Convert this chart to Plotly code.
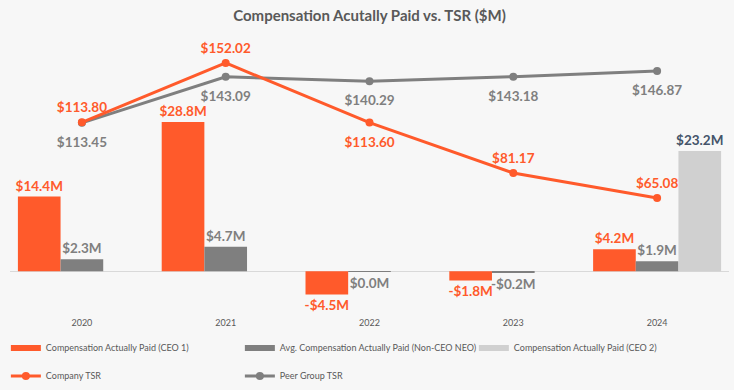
import plotly.graph_objects as go

# ---- data ----
years = ["2020", "2021", "2022", "2023", "2024"]
cap_ceo1 = [14.4, 28.8, -4.5, -1.8, 4.2]
cap_neo = [2.3, 4.7, -0.02, -0.2, 1.9]
cap_ceo2 = [None, None, None, None, 23.2]
company_tsr = [113.80, 152.02, 113.60, 81.17, 65.08]
peer_tsr = [113.45, 143.09, 140.29, 143.18, 146.87]

ORANGE = "#FF5A2B"
GRAY = "#7F7F7F"
LIGHT = "#D0D0D0"
TXT = "#595959"
FONT = "Lato"


def m_label(v):
    if v is None:
        return ""
    r = round(v, 1)
    return f"-${abs(r):.1f}M" if r < 0 else f"${abs(r):.1f}M"


def tsr_label(v):
    return f"${v:.2f}"


fig = go.Figure()

lab_font = lambda c: dict(family=FONT, size=13.5, color=c, weight="bold")

fig.add_trace(go.Bar(
    x=years, y=cap_ceo1, name="Compensation Actually Paid (CEO 1)",
    marker=dict(color=ORANGE, line=dict(width=0)),
    text=[m_label(v) for v in cap_ceo1], textposition="outside", constraintext="none",
    textfont=lab_font(ORANGE), cliponaxis=False, showlegend=False,
))
fig.add_trace(go.Bar(
    x=years, y=cap_neo, name="Avg. Compensation Actually Paid (Non-CEO NEO)",
    marker=dict(color=GRAY, line=dict(width=0)),
    text=[m_label(v) for v in cap_neo], textposition="outside", constraintext="none",
    textfont=lab_font(GRAY), cliponaxis=False, showlegend=False,
))
fig.add_trace(go.Bar(
    x=years, y=cap_ceo2, name="Compensation Actually Paid (CEO 2)",
    marker=dict(color=LIGHT, line=dict(width=0)),
    text=[m_label(v) for v in cap_ceo2], textposition="outside", constraintext="none",
    textfont=lab_font("#44546A"), cliponaxis=False, showlegend=False,
))

# legend proxies for the bars (flat rectangles)
for nm, col in [("Compensation Actually Paid (CEO 1)", ORANGE),
                ("Avg. Compensation Actually Paid (Non-CEO NEO)", GRAY),
                ("Compensation Actually Paid (CEO 2)", LIGHT)]:
    fig.add_trace(go.Scatter(x=[None], y=[None], mode="lines", name=nm,
                             line=dict(color=col, width=6), legend="legend",
                             hoverinfo="skip"))

fig.add_trace(go.Scatter(
    x=years, y=peer_tsr, name="Peer Group TSR", yaxis="y2",
    mode="lines+markers", line=dict(color=GRAY, width=3),
    marker=dict(color=GRAY, size=8),
    cliponaxis=False, legend="legend2", legendrank=2,
))
fig.add_trace(go.Scatter(
    x=years, y=company_tsr, name="Company TSR", yaxis="y2",
    mode="lines+markers", line=dict(color=ORANGE, width=3),
    marker=dict(color=ORANGE, size=8),
    cliponaxis=False, legend="legend2", legendrank=1,
))

# data labels for the TSR lines (invisible markers only set the label offset)
fig.add_trace(go.Scatter(
    x=years, y=peer_tsr, yaxis="y2", mode="markers+text", showlegend=False,
    marker=dict(color=GRAY, size=21, opacity=0, line=dict(width=0)),
    text=[tsr_label(v) for v in peer_tsr], textposition="bottom center",
    textfont=lab_font(GRAY), cliponaxis=False, hoverinfo="skip",
))
fig.add_trace(go.Scatter(
    x=years, y=company_tsr, yaxis="y2", mode="markers+text", showlegend=False,
    marker=dict(color=ORANGE, size=[9, 9, 21, 9, 9], opacity=0, line=dict(width=0)),
    text=[tsr_label(v) for v in company_tsr],
    textposition=["top center", "top center", "bottom center", "top center", "top center"],
    textfont=lab_font(ORANGE), cliponaxis=False, hoverinfo="skip",
))

leg_common = dict(orientation="h", xref="container", yref="container",
                  xanchor="left", yanchor="middle", entrywidth=189,
                  font=dict(family=FONT, size=9, color=TXT),
                  bgcolor="rgba(0,0,0,0)", borderwidth=0)

fig.update_layout(
    width=734, height=390,
    margin=dict(l=10, r=5, t=40, b=80),
    paper_bgcolor="#F7F7F7", plot_bgcolor="#F7F7F7",
    barmode="group", bargap=0.11, bargroupgap=0,
    title=dict(text="Compensation Acutally Paid vs. TSR ($M)",
               x=0.5, xref="paper", y=0.96, yanchor="middle",
               font=dict(family=FONT, size=15, color=TXT, weight="bold")),
    font=dict(family=FONT, color=TXT),
    xaxis=dict(type="category", showgrid=False, showline=False, ticks="",
               ticklabelstandoff=6,
               tickfont=dict(family=FONT, size=9, color=TXT)),
    yaxis=dict(range=[-7.5, 44.6], showgrid=False, showticklabels=False,
               zeroline=True, zerolinecolor="#D9D9D9", zerolinewidth=1, ticks=""),
    yaxis2=dict(range=[-7.08, 166.8], overlaying="y", visible=False),
    legend=dict(x=0.008, y=0.108, **leg_common),
    legend2=dict(x=0.008, y=0.036, **leg_common),
    showlegend=True,
)

fig.write_html("out.html", config={"displayModeBar": False},
               post_script="document.body.style.margin='0';document.body.style.overflow='hidden';")
